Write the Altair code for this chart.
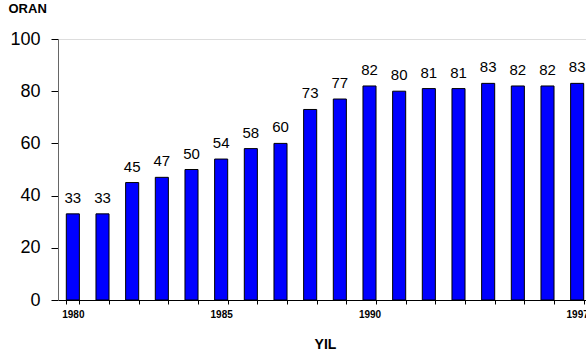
import altair as alt
import pandas as pd

years = [str(y) for y in range(1980, 1998)]
values = [33, 33, 45, 47, 50, 54, 58, 60, 73, 77, 82, 80, 81, 81, 83, 82, 82, 83]
label_years = ["1980", "1985", "1990", "1997"]
y_ticks = [0, 20, 40, 60, 80, 100]

df = pd.DataFrame({"YIL": years, "ORAN": values})
FONT = "Liberation Sans"

label_list = "[" + ",".join("'%s'" % y for y in label_years) + "]"

x_enc = alt.X(
    "YIL:O",
    scale=alt.Scale(paddingInner=0.56, paddingOuter=0.28, range=[0, 534]),
    axis=alt.Axis(
        title="YIL",
        labelAngle=0,
        labelExpr="indexof(%s, datum.label) >= 0 ? datum.label : ''" % label_list,
        labelFont=FONT, labelFontSize=10, labelFontWeight="bold", labelColor="black",
        labelPadding=5, tickBand="extent", tickSize=4, tickColor="black",
        domainColor="black", labelOverlap=False, labelBound=False, labelFlush=False,
        titleFont=FONT, titleFontSize=14, titleFontWeight="bold", titleColor="black",
        titleX=267, titleY=48, titleBaseline="alphabetic",
    ),
)

y_enc = alt.Y(
    "ORAN:Q",
    scale=alt.Scale(domain=[0, 100], nice=False),
    axis=alt.Axis(
        title="ORAN", titleAngle=0, titleX=-50, titleY=-27, titleAlign="left",
        titleBaseline="alphabetic",
        titleFont=FONT, titleFontSize=13, titleFontWeight="bold", titleColor="black",
        values=y_ticks, grid=False,
        labelFont=FONT, labelFontSize=18, labelColor="black", labelPadding=11,
        tickSize=7, tickColor="black", domainColor="#666",
    ),
)

base = alt.Chart(df)
bars = base.mark_bar(color="#0000FF", stroke="black", strokeWidth=1).encode(x=x_enc, y=y_enc)
text = base.mark_text(font=FONT, fontSize=15, dy=-11, baseline="alphabetic", color="black").encode(
    x="YIL:O", y="ORAN:Q", text="ORAN:Q"
)

chart = (
    alt.layer(bars, text)
    .properties(
        width=528, height=261,
        autosize=alt.AutoSizeParams(type="none"),
        padding={"left": 58, "top": 39, "right": 0, "bottom": 55},
    )
    .configure_view(stroke=None)
    .configure(background="white")
)

chart.save("out.html", embed_options={"renderer": "svg", "actions": False})
